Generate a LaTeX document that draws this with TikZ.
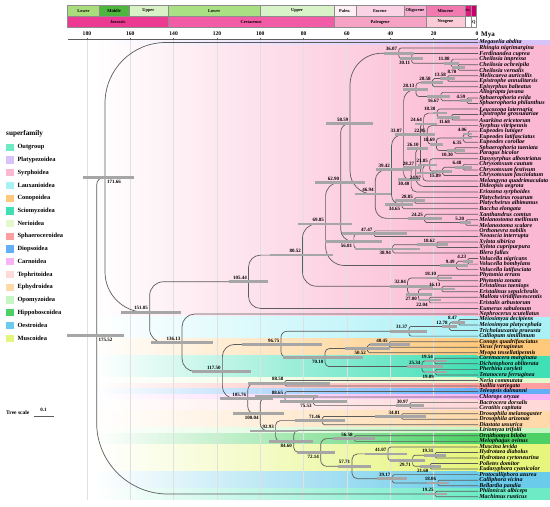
\documentclass[tikz,border=0pt]{standalone}
\usepackage{fontspec}
\setmainfont{Liberation Serif}
\usetikzlibrary{calc}
\definecolor{brc}{HTML}{5C5C5C}
\definecolor{hpdc}{HTML}{A6A6A6}
\definecolor{sfOut}{HTML}{6EEBC5}
\definecolor{sfPlat}{HTML}{D7C3F7}
\definecolor{sfSyr}{HTML}{FBB8D2}
\definecolor{sfLaux}{HTML}{A9F1F7}
\definecolor{sfCono}{HTML}{FFC97C}
\definecolor{sfScio}{HTML}{40DFB5}
\definecolor{sfNeri}{HTML}{E4F8CC}
\definecolor{sfSpha}{HTML}{FF9E9E}
\definecolor{sfDiop}{HTML}{62AFF7}
\definecolor{sfCarn}{HTML}{F8B3F6}
\definecolor{sfTeph}{HTML}{FFD8D8}
\definecolor{sfEphy}{HTML}{FFD9AA}
\definecolor{sfOpom}{HTML}{C6F6C2}
\definecolor{sfHipp}{HTML}{4DD166}
\definecolor{sfOest}{HTML}{6BCBEA}
\definecolor{sfMusc}{HTML}{E6F57C}
\definecolor{tsLJ}{HTML}{A9DD7C}
\definecolor{tsMJ}{HTML}{4EB53F}
\definecolor{tsUJ}{HTML}{D8F1C7}
\definecolor{tsLK}{HTML}{A8E083}
\definecolor{tsUK}{HTML}{D8F3C8}
\definecolor{tsPal}{HTML}{FEF0F5}
\definecolor{tsEoc}{HTML}{FAD3E5}
\definecolor{tsOli}{HTML}{F5AED0}
\definecolor{tsMio}{HTML}{F27AB1}
\definecolor{tsPli}{HTML}{E3177E}
\definecolor{tsPle}{HTML}{C9006B}
\definecolor{tsJur}{HTML}{EC3A93}
\definecolor{tsCre}{HTML}{F25BA5}
\definecolor{tsPgn}{HTML}{F6A2C5}
\definecolor{tsNgn}{HTML}{FBCBD7}
\tikzset{
 br/.style={draw=brc, line width=0.7pt},
 hpd/.style={draw=hpdc, line width=2.7pt},
 tip/.style={anchor=west, inner sep=1.2pt, font=\fontsize{6}{6.5}\selectfont\bfseries\itshape},
 agel/.style={font=\fontsize{5}{5.5}\selectfont\bfseries, inner sep=0.3pt},
 tsl/.style={font=\fontsize{4.4}{5}\selectfont\bfseries, inner sep=0pt},
 axl/.style={font=\fontsize{5.6}{6}\selectfont\bfseries, inner sep=0pt},
 lgl/.style={anchor=west, font=\fontsize{6.4}{7}\selectfont\bfseries, inner sep=0pt},
 gridl/.style={draw=black!12, line width=0.4pt},
}
\newcommand\tp[2]{\node[tip] (t#1) at (478,{42.5+(#1-1)*5.54}) {#2};}
\newcommand\ed[2]{\draw[br] let \p1=(#1), \p2=(#2), \n1={max(0.05,min(0.45*abs(\y2-\y1),0.9*abs(\x2-\x1)))} in (#1) [rounded corners=\n1] |- (#2);}
\newcommand\nd[4]{\path let \p1=(#3), \p2=(#4) in coordinate (#1) at (#2pt,{0.5*(\y1+\y2)}); \ed{#1}{#3}\ed{#1}{#4}}
\newcommand\hb[3]{\draw[hpd] let \p1=(#1) in (#2pt,\y1) -- (#3pt,\y1);}
\newcommand\la[2]{\node[agel,anchor=south east] (l#1) at ([xshift=-1.2pt,yshift=1.8pt]#1) {#2};}
\newcommand\lb[2]{\node[agel,anchor=north east] (l#1) at ([xshift=-1.2pt,yshift=-2.2pt]#1) {#2};}
\newcommand\lr[2]{\node[agel,anchor=north west] (l#1) at ([xshift=1.5pt,yshift=-2.2pt]#1) {#2};}
\newcommand\band[3]{\shade[left color=white, right color=#3] (95,{39.73+(#1-1)*5.54}) rectangle (477,{45.27+(#2-1)*5.54});
 \fill[#3] (477,{39.73+(#1-1)*5.54}) rectangle (550,{45.27+(#2-1)*5.54});}
\newcommand\tsb[7]{\filldraw[fill=#6, draw=black!45, line width=0.4pt] (#2,#4) rectangle (#3,#5); \node[tsl] (#1) at ({(#2+#3)/2},{(#4+#5)/2}) {#7};}
\newcommand\lgd[3]{\fill[#2] (6,{147.3+12.72*#1-3.6}) rectangle (14,{147.3+12.72*#1+3.6}); \node[lgl] (lg#1) at (17.3,{147.3+12.72*#1}) {#3};}
\begin{document}
\begin{tikzpicture}[x=1pt,y=-1pt]
\useasboundingbox (0,0) rectangle (550,507);
\fill[white] (0,0) rectangle (550,507);
% bands
\band{1}{1}{sfPlat}
\band{2}{50}{sfSyr}
\band{51}{54}{sfLaux}
\band{55}{57}{sfCono}
\band{58}{61}{sfScio}
\band{62}{62}{sfNeri}
\band{63}{63}{sfSpha}
\band{64}{64}{sfDiop}
\band{65}{65}{sfCarn}
\band{66}{67}{sfTeph}
\band{68}{70}{sfEphy}
\band{71}{71}{sfOpom}
\band{72}{73}{sfHipp}
\band{74}{78}{sfMusc}
\band{79}{81}{sfOest}
\band{82}{83}{sfOut}
% grid
\foreach \mm in {180,160,...,20} \draw[gridl] ({477-2.167*\mm},40) -- ({477-2.167*\mm},500);
% timescale
\tsb{e1}{67.5}{99.5}{5}{16.5}{tsLJ}{Lower}
\tsb{e2}{99.5}{128.7}{5}{16.5}{tsMJ}{Middle}
\tsb{e3}{128.7}{168.1}{5}{16.5}{tsUJ}{Upper}
\tsb{e4}{168.1}{260.2}{5}{16.5}{tsLK}{Lower}
\tsb{e5}{260.2}{334}{5}{16.5}{tsUK}{Upper}
\tsb{e6}{334}{355.8}{5}{16.5}{tsPal}{Paleo.}
\tsb{e7}{355.8}{403.7}{5}{16.5}{tsEoc}{Eocene}
\tsb{e8}{403.7}{426.2}{5}{16.5}{tsOli}{Oligocene}
\tsb{e9}{426.2}{464.8}{5}{16.5}{tsMio}{Miocene}
\tsb{e10}{464.8}{471.2}{5}{16.5}{tsPli}{\fontsize{3.2}{4}\selectfont Pli.}
\tsb{e11}{471.2}{476.4}{5}{16.5}{tsPle}{}
\tsb{p1}{67.5}{168.1}{16.5}{27.5}{tsJur}{Jurassic}
\tsb{p2}{168.1}{334}{16.5}{27.5}{tsCre}{Cretaceous}
\tsb{p3}{334}{426.2}{16.5}{27.5}{tsPgn}{Paleogene}
\tsb{p4}{426.2}{464.8}{16.5}{27.5}{tsNgn}{Neogene}
\tsb{p5}{464.8}{471.2}{16.5}{27.5}{white}{}
\tsb{p6}{471.2}{476.4}{16.5}{27.5}{white}{Q}
% axis
\draw[brc, line width=0.6pt] (67.5,39.5) -- (477,39.5);
\foreach \mm in {180,160,...,0} {\draw[brc, line width=0.5pt] ({477-2.167*\mm},39.5) -- ({477-2.167*\mm},37.5);
 \node[axl] (ax\mm) at ({477-2.167*\mm},34) {\mm};}
\node[anchor=west, inner sep=0pt, font=\fontsize{7}{8}\selectfont\bfseries] (mya) at (481,34.5) {Mya};
% tips
\tp{1}{Megaselia abdita}
\tp{2}{Rhingia nigrimargina}
\tp{3}{Ferdinandea cuprea}
\tp{4}{Cheilosia impressa}
\tp{5}{Cheilosia ochreipila}
\tp{6}{Cheilosia vernalis}
\tp{7}{Meliscaeva auricollis}
\tp{8}{Epistrophe annulitarsis}
\tp{9}{Episyrphus balteatus}
\tp{10}{Allograpta javana}
\tp{11}{Sphaerophoria evida}
\tp{12}{Sphaerophoria philanthus}
\tp{13}{Leucozona laternaria}
\tp{14}{Epistrophe grossulariae}
\tp{15}{Asarkina ericetorum}
\tp{16}{Syrphus vitripennis}
\tp{17}{Eupeodes luniger}
\tp{18}{Eupeodes latifasciatus}
\tp{19}{Eupeodes corollae}
\tp{20}{Sphaerophoria taeniata}
\tp{21}{Paragus bicolor}
\tp{22}{Dasysyrphus albostriatus}
\tp{23}{Chrysotoxum cautum}
\tp{24}{Chrysotoxum festivum}
\tp{25}{Chrysotoxum fasciolatum}
\tp{26}{Melangyna quadrimaculata}
\tp{27}{Dideopsis aegrota}
\tp{28}{Eriozona syrphoides}
\tp{29}{Platycheirus rosarum}
\tp{30}{Platycheirus albimanus}
\tp{31}{Baccha elongata}
\tp{32}{Xanthandrus comtus}
\tp{33}{Melanostoma mellinum}
\tp{34}{Melanostoma scalare}
\tp{35}{Orthonevra nobilis}
\tp{36}{Neoascia interrupta}
\tp{37}{Xylota sibirica}
\tp{38}{Xylota cupripurpura}
\tp{39}{Blera fallax}
\tp{40}{Volucella nigricans}
\tp{41}{Volucella bombylans}
\tp{42}{Volucella latifasciata}
\tp{43}{Phytomia errans}
\tp{44}{Phytomia zonata}
\tp{45}{Eristalinus taeniops}
\tp{46}{Eristalinus sepulchralis}
\tp{47}{Mallota viridiflavescentis}
\tp{48}{Eristalis arbustorum}
\tp{49}{Eumerus sabulonum}
\tp{50}{Nephrocerus scutellatus}
\tp{51}{Meiosimyza decipiens}
\tp{52}{Meiosimyza platycephala}
\tp{53}{Tricholauxania praeusta}
\tp{54}{Calliopum simillimum}
\tp{55}{Conops quadrifasciatus}
\tp{56}{Sicus ferrugineus}
\tp{57}{Myopa tessellatipennis}
\tp{58}{Coremacera marginata}
\tp{59}{Dichetophora obliterata}
\tp{60}{Pherbina coryleti}
\tp{61}{Tetanocera ferruginea}
\tp{62}{Neria commutata}
\tp{63}{Suillia variegata}
\tp{64}{Teleopsis dalmanni}
\tp{65}{Chlorops oryzae}
\tp{66}{Bactrocera dorsalis}
\tp{67}{Ceratitis capitata}
\tp{68}{Drosophila melanogaster}
\tp{69}{Drosophila arizonae}
\tp{70}{Diastata ussurica}
\tp{71}{Liriomyza trifolii}
\tp{72}{Ornithomya biloba}
\tp{73}{Melophagus ovinus}
\tp{74}{Muscina levida}
\tp{75}{Hydrotaea diabolus}
\tp{76}{Hydrotaea cyrtoneurina}
\tp{77}{Polietes domitor}
\tp{78}{Eudasyphora cyanicolor}
\tp{79}{Protocalliphora azurea}
\tp{80}{Calliphora vicina}
\tp{81}{Bellardia pandia}
\tp{82}{Philonicus albiceps}
\tp{83}{Machimus rusticus}
% tree
\nd{n870}{458.15}{t5.west}{t6.west}
\nd{n1188}{451.26}{t4.west}{n870}
\nd{n3011}{411.75}{t3.west}{n1188}
\nd{n3607}{398.84}{t2.west}{n3011}
\nd{n1358}{447.57}{t7.west}{t8.west}
\nd{n2058}{432.40}{n1358}{t9.west}
\nd{n459}{467.05}{t11.west}{t12.west}
\nd{n1667}{440.88}{t10.west}{n459}
\nd{n2813}{416.04}{n2058}{n1667}
\nd{n1168}{451.69}{t14.west}{t15.west}
\nd{n1838}{437.17}{t13.west}{n1168}
\nd{n406}{468.20}{t17.west}{t18.west}
\nd{n635}{463.24}{n406}{t19.west}
\nd{n1030}{454.68}{t20.west}{t21.west}
\nd{n1869}{436.50}{n635}{n1030}
\nd{n2295}{427.27}{t16.west}{n1869}
\nd{n2464}{423.61}{n1838}{n2295}
\nd{n648}{462.96}{t23.west}{t24.west}
\nd{n1589}{442.57}{n648}{t25.west}
\nd{n2185}{429.65}{t22.west}{n1589}
\nd{n2497}{422.89}{n2185}{t26.west}
\nd{n2610}{420.44}{n2464}{n2497}
\nd{n2827}{415.74}{n2610}{t27.west}
\nd{n3040}{411.12}{n2827}{t28.west}
\nd{n3387}{403.60}{n2813}{n3040}
\nd{n2885}{414.48}{t29.west}{t30.west}
\nd{n3465}{401.91}{n2885}{t31.west}
\nd{n3942}{391.58}{n3387}{n3465}
\nd{n520}{465.73}{t33.west}{t34.west}
\nd{n2425}{424.45}{t32.west}{n520}
\nd{n4694}{375.28}{n3942}{n2425}
\nd{n5859}{350.04}{n3607}{n4694}
\nd{n4747}{374.13}{t35.west}{t36.west}
\nd{n1862}{436.65}{t37.west}{t38.west}
\nd{n3894}{392.62}{n1862}{t39.west}
\nd{n5681}{353.89}{n4747}{n3894}
\nd{n6290}{340.70}{n5859}{n5681}
\nd{n423}{467.83}{t40.west}{t41.west}
\nd{n949}{456.44}{n423}{t42.west}
\nd{n6985}{325.63}{n6290}{n949}
\nd{n1810}{437.78}{t43.west}{t44.west}
\nd{n1613}{442.05}{t45.west}{t46.west}
\nd{n2204}{429.24}{t47.west}{t48.west}
\nd{n2700}{418.49}{n1613}{n2204}
\nd{n3204}{407.57}{n1810}{n2700}
\nd{n8052}{302.51}{n6985}{n3204}
\nd{n10544}{248.51}{n8052}{t49.west}
\nd{n847}{458.65}{t51.west}{t52.west}
\nd{n1278}{449.31}{n847}{t53.west}
\nd{n3137}{409.02}{n1278}{t54.west}
\nd{n4045}{389.34}{t55.west}{t56.west}
\nd{n5052}{367.52}{n4045}{t57.west}
\nd{n1954}{434.66}{t58.west}{t59.west}
\nd{n1909}{435.63}{t60.west}{t61.west}
\nd{n2534}{422.09}{n1954}{n1909}
\nd{n7010}{325.09}{n5052}{n2534}
\nd{n9675}{281}{n3137}{n7010}
\nd{n8858}{285.05}{t62.west}{t63.west}
\nd{n3097}{409.89}{t66.west}{t67.west}
\nd{n7553}{313.33}{t65.west}{n3097}
\nd{n8865}{284.90}{t64.west}{n7553}
\nd{n3481}{401.57}{t68.west}{t69.west}
\nd{n7146}{322.15}{n3481}{t70.west}
\nd{n5658}{354.39}{t72.west}{t73.west}
\nd{n1931}{435.16}{t75.west}{t76.west}
\nd{n2160}{430.19}{t77.west}{t78.west}
\nd{n2971}{412.62}{n1931}{n2160}
\nd{n4107}{388.00}{t74.west}{n2971}
\nd{n1806}{437.86}{t80.west}{t81.west}
\nd{n3917}{392.12}{t79.west}{n1806}
\nd{n5771}{351.94}{n4107}{n3917}
\nd{n7214}{320.67}{n5658}{n5771}
\nd{n8460}{293.67}{t71.west}{n7214}
\nd{n9293}{275.62}{n7146}{n8460}
\nd{n10004}{260.21}{n8865}{n9293}
\nd{n10576}{247.82}{n8858}{n10004}
\nd{n11750}{222.38}{n9675}{n10576}
\nd{n13613}{182.01}{t50.west}{n11750}
\nd{n15105}{149.67}{n10544}{n13613}
\nd{n17166}{105.01}{t1.west}{n15105}
\nd{n1925}{435.29}{t82.west}{t83.west}
\nd{n17552}{96.65}{n17166}{n1925}
% HPD bars
\hb{n870}{451.5}{464.8} \hb{n1188}{443.7}{458.8} \hb{n3011}{400}{423} \hb{n3607}{384}{413.6}
\hb{n1358}{440}{455} \hb{n2058}{421}{443} \hb{n459}{460}{471.7} \hb{n1667}{426.7}{450}
\hb{n2813}{403}{428.3} \hb{n1838}{433}{446.7} \hb{n1168}{436.7}{460} \hb{n406}{463}{471.7}
\hb{n635}{460}{471.7} \hb{n1030}{446.7}{465} \hb{n1869}{430}{443.3} \hb{n2295}{413}{435}
\hb{n2464}{415}{436.7} \hb{n2610}{406.7}{428.3} \hb{n3387}{395}{435} \hb{n648}{455}{471.7}
\hb{n1589}{433}{451.7} \hb{n2185}{418}{436.7} \hb{n2497}{416.7}{436.7} \hb{n2827}{403}{421.7}
\hb{n3040}{398}{420} \hb{n3942}{376}{412} \hb{n2885}{395}{425} \hb{n520}{460.1}{471.3}
\hb{n2425}{408}{441.7} \hb{n3465}{385}{413.3} \hb{n4694}{355}{391} \hb{n5859}{326}{373}
\hb{n4747}{342}{407} \hb{n1862}{416.7}{448} \hb{n3894}{355}{420} \hb{n5681}{325}{382}
\hb{n6290}{315}{365} \hb{n423}{462.5}{473.1} \hb{n949}{440}{468} \hb{n6985}{298}{352}
\hb{n1810}{426.7}{452} \hb{n1613}{431.7}{455} \hb{n2204}{418}{441} \hb{n2700}{406}{432}
\hb{n3204}{390}{433} \hb{n8052}{270}{333} \hb{n10544}{229}{268}
\hb{n847}{452}{465} \hb{n1278}{441.5}{457} \hb{n3137}{390}{426.7} \hb{n4045}{370}{410}
\hb{n5052}{345}{390} \hb{n1954}{425}{447} \hb{n1909}{425}{447} \hb{n2534}{406.7}{443}
\hb{n7010}{283}{363} \hb{n9675}{242}{322} \hb{n8858}{248}{330} \hb{n3097}{396}{424}
\hb{n7553}{280}{347} \hb{n8865}{255}{318} \hb{n3481}{375}{426} \hb{n7146}{295}{345}
\hb{n5658}{333}{375} \hb{n1931}{424}{446} \hb{n2160}{420}{441} \hb{n2971}{390}{425}
\hb{n4107}{365}{406.7} \hb{n1806}{427}{449} \hb{n3917}{376.7}{406.7} \hb{n5771}{338}{370.7}
\hb{n7214}{296.7}{335} \hb{n8460}{269}{313} \hb{n9293}{250}{298} \hb{n10004}{233}{284}
\hb{n10576}{220}{273} \hb{n11750}{192}{251} \hb{n13613}{151}{213} \hb{n15105}{121}{181}
\hb{n17166}{83}{134} \hb{n1925}{424}{447} \hb{n17552}{67}{124}
% age labels
\la{n3607}{36.07} \lb{n3011}{30.11} \la{n1188}{11.88} \lb{n870}{8.70}
\la{n1358}{13.58} \la{n2058}{20.58} \la{n459}{4.59} \lb{n1667}{16.67} \la{n2813}{28.13}
\la{n1838}{18.38} \lb{n1168}{11.68} \la{n406}{4.06} \lb{n635}{6.35} \lb{n1030}{10.30}
\la{n1869}{18.69} \la{n2295}{22.95} \la{n2464}{24.64} \la{n2610}{26.10} \la{n3387}{33.87}
\la{n648}{6.48} \lb{n1589}{15.89} \la{n2185}{21.85} \lb{n2497}{24.97} \la{n2827}{28.27}
\lb{n3040}{30.40} \la{n3942}{39.42}
\la{n2885}{28.85} \la{n520}{5.20} \la{n2425}{24.25} \lb{n3465}{34.65} \la{n4694}{46.94} \la{n5859}{58.59}
\la{n4747}{47.47} \la{n1862}{18.62} \lb{n3894}{38.94} \lb{n5681}{56.81} \la{n6290}{62.90}
\la{n423}{4.23} \la{n949}{9.49} \la{n6985}{69.85}
\la{n1810}{18.10} \la{n1613}{16.13} \lb{n2204}{22.04} \lb{n2700}{27.00} \la{n3204}{32.04}
\la{n8052}{80.52} \la{n10544}{105.44}
\la{n847}{8.47} \la{n1278}{12.78} \la{n3137}{31.37} \la{n4045}{40.45} \lb{n5052}{50.52}
\la{n1954}{19.54} \lb{n1909}{19.09} \la{n2534}{25.34} \lb{n7010}{70.10} \la{n9675}{96.75}
\la{n8858}{88.58} \la{n3097}{30.97} \lb{n7553}{75.53} \la{n8865}{88.65} \la{n3481}{34.81} \la{n7146}{71.46}
\la{n5658}{56.58} \la{n1931}{19.31} \lb{n2160}{21.60} \lb{n2971}{29.71} \la{n4107}{41.07}
\la{n1806}{18.06} \la{n3917}{39.17} \la{n5771}{57.71} \lb{n7214}{72.14} \lb{n8460}{84.60}
\la{n9293}{92.93} \lb{n10004}{100.04} \la{n10576}{105.76} \la{n11750}{117.50} \la{n13613}{136.13}
\la{n15105}{151.05} \lr{n17166}{171.66} \la{n1925}{19.25} \lr{n17552}{175.52}
% legend
\node[anchor=west, inner sep=0pt, font=\fontsize{7.2}{8}\selectfont\bfseries] (lgt) at (6,133.3) {superfamily};
\lgd{0}{sfOut}{Outgroup}
\lgd{1}{sfPlat}{Platypezoidea}
\lgd{2}{sfSyr}{Syrphoidea}
\lgd{3}{sfLaux}{Lauxanioidea}
\lgd{4}{sfCono}{Conopoidea}
\lgd{5}{sfScio}{Sciomyzoidea}
\lgd{6}{sfNeri}{Nerioidea}
\lgd{7}{sfSpha}{Sphaeroceroidea}
\lgd{8}{sfDiop}{Diopsoidea}
\lgd{9}{sfCarn}{Carnoidea}
\lgd{10}{sfTeph}{Tephritoidea}
\lgd{11}{sfEphy}{Ephydroidea}
\lgd{12}{sfOpom}{Opomyzoidea}
\lgd{13}{sfHipp}{Hippoboscoidea}
\lgd{14}{sfOest}{Oestroidea}
\lgd{15}{sfMusc}{Muscoidea}
% tree scale
\node[anchor=west, inner sep=0pt, font=\fontsize{5.5}{6}\selectfont\bfseries] (tsc) at (6,412.5) {Tree scale};
\coordinate (sc1) at (33.5,416);
\coordinate (sc2) at (53.5,416);
\draw[brc, line width=0.6pt] (sc1) -- (sc2);
\node[inner sep=0pt, font=\fontsize{5}{6}\selectfont\bfseries] (tsv) at (43.5,410) {0.1};
\end{tikzpicture}
\end{document}
